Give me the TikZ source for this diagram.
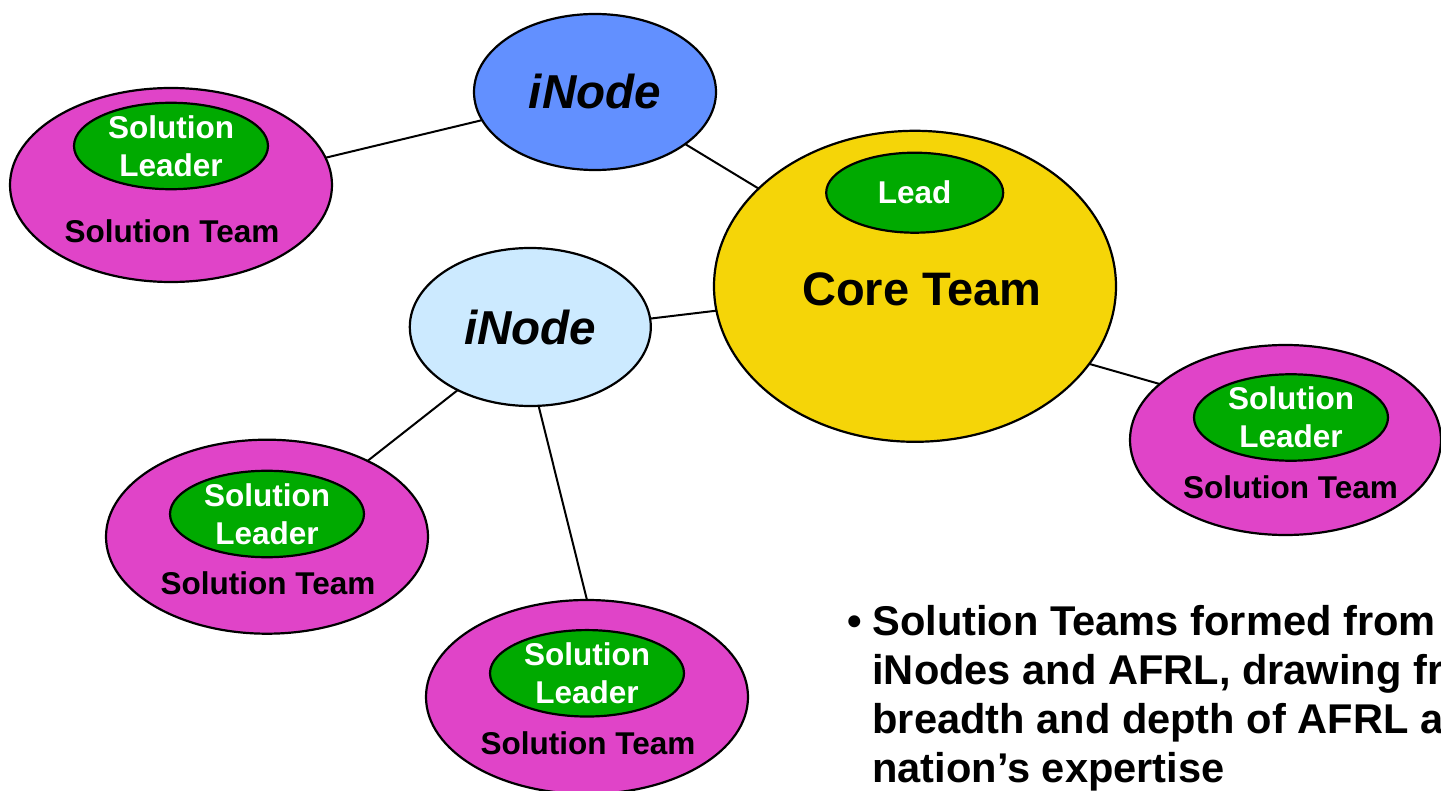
\documentclass[tikz,border=0pt]{standalone}
\usepackage{fontspec}
\setmainfont{Liberation Sans}
\usetikzlibrary{shapes.geometric}
\definecolor{teampink}{HTML}{E044C8}
\definecolor{leadgreen}{HTML}{00AA00}
\definecolor{coreyellow}{HTML}{F5D508}
\definecolor{inodeblue}{HTML}{6290FF}
\definecolor{inodelight}{HTML}{CCEAFF}
\begin{document}
\begin{tikzpicture}[x=0.5pt,y=-0.5pt,
  oval/.style={ellipse, draw=black, line width=1.1pt, inner sep=0pt, outer sep=0pt},
  team/.style={oval, fill=teampink, minimum width=161pt, minimum height=97pt},
  leader/.style={oval, fill=leadgreen, minimum width=97pt, minimum height=41pt,
    text=white, font=\fontsize{15.75}{19}\selectfont\bfseries, align=center},
  teamlabel/.style={font=\fontsize{15.75}{19}\selectfont\bfseries, inner sep=0pt},
  inode/.style={oval, minimum width=121pt, minimum height=79pt,
    font=\fontsize{23.8}{28}\selectfont\bfseries\itshape},
  link/.style={line width=1pt}]
\useasboundingbox (0,0) rectangle (1441,791);
\clip (0,0) rectangle (1441,791);
\fill[white] (0,0) rectangle (1441,791);

% Core team
\node[oval, fill=coreyellow, minimum width=201pt, minimum height=155.5pt] (core) at (915,286.3) {};
\node[leader, minimum width=88.5pt, minimum height=40pt] (lead) at (914.7,192.7) {Lead};
\node[font=\fontsize{23.5}{28}\selectfont\bfseries, inner sep=0pt] (coret) at (922,289) {Core Team};

% iNodes
\node[inode, fill=inodeblue, minimum height=78pt] (in1) at (595,92) {iNode};
\node[inode, fill=inodelight, minimum width=120.5pt] (in2) at (530.3,327) {iNode};

% Solution teams
\node[team] (st1) at (171,185) {};
\node[leader] (st1l) at (171,146) {Solution\\Leader};
\node[teamlabel] (st1t) at (172,231) {Solution Team};

\node[team, minimum width=155.5pt, minimum height=95pt] (st2) at (1285.5,440) {};
\node[leader] (st2l) at (1291,417.5) {Solution\\Leader};
\node[teamlabel] (st2t) at (1290.5,487.5) {Solution Team};

\node[team] (st3) at (267,536.7) {};
\node[leader] (st3l) at (267,514) {Solution\\Leader};
\node[teamlabel] (st3t) at (268,583) {Solution Team};

\node[team] (st4) at (587,697) {};
\node[leader] (st4l) at (587,673.3) {Solution\\Leader};
\node[teamlabel] (st4t) at (588,743) {Solution Team};

% connectors
\draw[link] (st1.10.1) -- (in1.194.1);
\draw[link] (in1.330.8) -- (core.148.1);
\draw[link] (in2.4.3) -- (core.187.7);
\draw[link] (core.336.9) -- (st2.156.3);
\draw[link] (in2.221.6) -- (st3.37.4);
\draw[link] (in2.276.7) -- (st4.90.6);

% bullet text
\node[anchor=base, inner sep=0pt, font=\fontsize{20.8}{24.45}\selectfont\bfseries] (bul) at (855,635) {•};
\node[anchor=base west, inner sep=0pt, align=left,
  font=\fontsize{20.8}{24.45}\selectfont\bfseries] (txt) at (872,782)
  {Solution Teams formed from\\iNodes and AFRL, drawing from\\breadth and depth of AFRL and\\nation’s expertise};
\end{tikzpicture}
\end{document}
